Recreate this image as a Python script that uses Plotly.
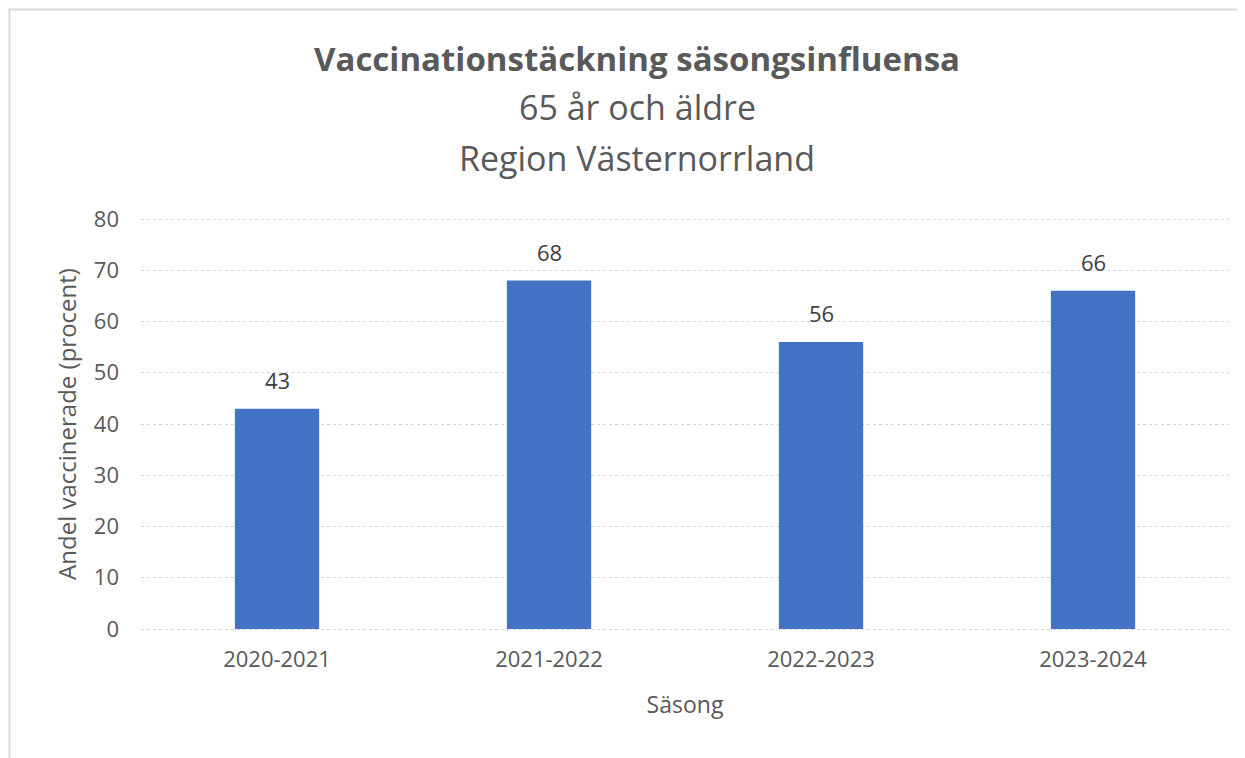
import plotly.graph_objects as go

seasons = ["2020-2021", "2021-2022", "2022-2023", "2023-2024"]
coverage = [43, 68, 56, 66]
y_ticks = [0, 10, 20, 30, 40, 50, 60, 70, 80]

title_main = "Vaccinationstäckning säsongsinfluensa"
title_sub1 = "65 år och äldre"
title_sub2 = "Region Västernorrland"

FONT = "Open Sans"
GRAY = "#595959"

# the page body adds an 8 px offset; positions below are in figure pixels
OFF = 8
PAD = 2  # extra pixels so the 0 and 80 gridlines are drawn inside the plot area
W, H = 1245, 758
L, R, T, B = 141 - OFF, 24, 219 - OFF - PAD, 137 - PAD
pw = W - L - R
ph = H - T - B
unit = (ph - 2 * PAD) / 80.0
ypad = PAD / unit


def px_x(px):
    return (px - OFF - L) / pw


def px_y(py):
    return (H - B - (py - OFF)) / ph


fig = go.Figure()
fig.add_trace(go.Bar(
    x=seasons, y=coverage,
    marker=dict(color="#4472C4", line=dict(width=0)),
    width=0.31,
    hoverinfo="x+y",
))

for s, v in zip(seasons, coverage):
    fig.add_annotation(x=s, y=v, text=str(v), showarrow=False, yanchor="bottom",
                       yshift=12, font=dict(family=FONT, size=22, color="#404040"))

fig.add_annotation(xref="paper", yref="paper", x=px_x(637), y=px_y(58), text="<b>" + title_main + "</b>",
                   showarrow=False, xanchor="center", yanchor="middle",
                   font=dict(family=FONT, size=33, color=GRAY))
fig.add_annotation(xref="paper", yref="paper", x=px_x(637), y=px_y(107), text=title_sub1,
                   showarrow=False, xanchor="center", yanchor="middle",
                   font=dict(family=FONT, size=34, color=GRAY))
fig.add_annotation(xref="paper", yref="paper", x=px_x(637), y=px_y(158), text=title_sub2,
                   showarrow=False, xanchor="center", yanchor="middle",
                   font=dict(family=FONT, size=34, color=GRAY))

fig.add_shape(type="rect", xref="paper", yref="paper",
              x0=px_x(9.5), x1=px_x(1300), y0=px_y(9.5), y1=px_y(800),
              line=dict(color="#d9d9d9", width=2), fillcolor="rgba(0,0,0,0)", layer="below")

fig.update_layout(
    width=W, height=H,
    margin=dict(l=L, r=R, t=T, b=B),
    paper_bgcolor="white", plot_bgcolor="white",
    showlegend=False,
    bargap=0.69,
    font=dict(family=FONT, color=GRAY),
    xaxis=dict(
        title=dict(text="Säsong", font=dict(family=FONT, size=23, color=GRAY), standoff=24),
        tickfont=dict(family=FONT, size=22, color=GRAY),
        showgrid=False, showline=False, ticks="", ticklabelstandoff=13,
    ),
    yaxis=dict(
        title=dict(text="Andel vaccinerade (procent)", font=dict(family=FONT, size=24, color=GRAY), standoff=10),
        range=[-ypad, 80 + ypad], tickvals=y_ticks,
        tickfont=dict(family=FONT, size=22, color=GRAY),
        showgrid=True, gridcolor="#d4d4d4", griddash="dot", gridwidth=1,
        zeroline=False, showline=False, ticks="", ticklabelstandoff=21,
    ),
)

fig.write_html("out.html")
